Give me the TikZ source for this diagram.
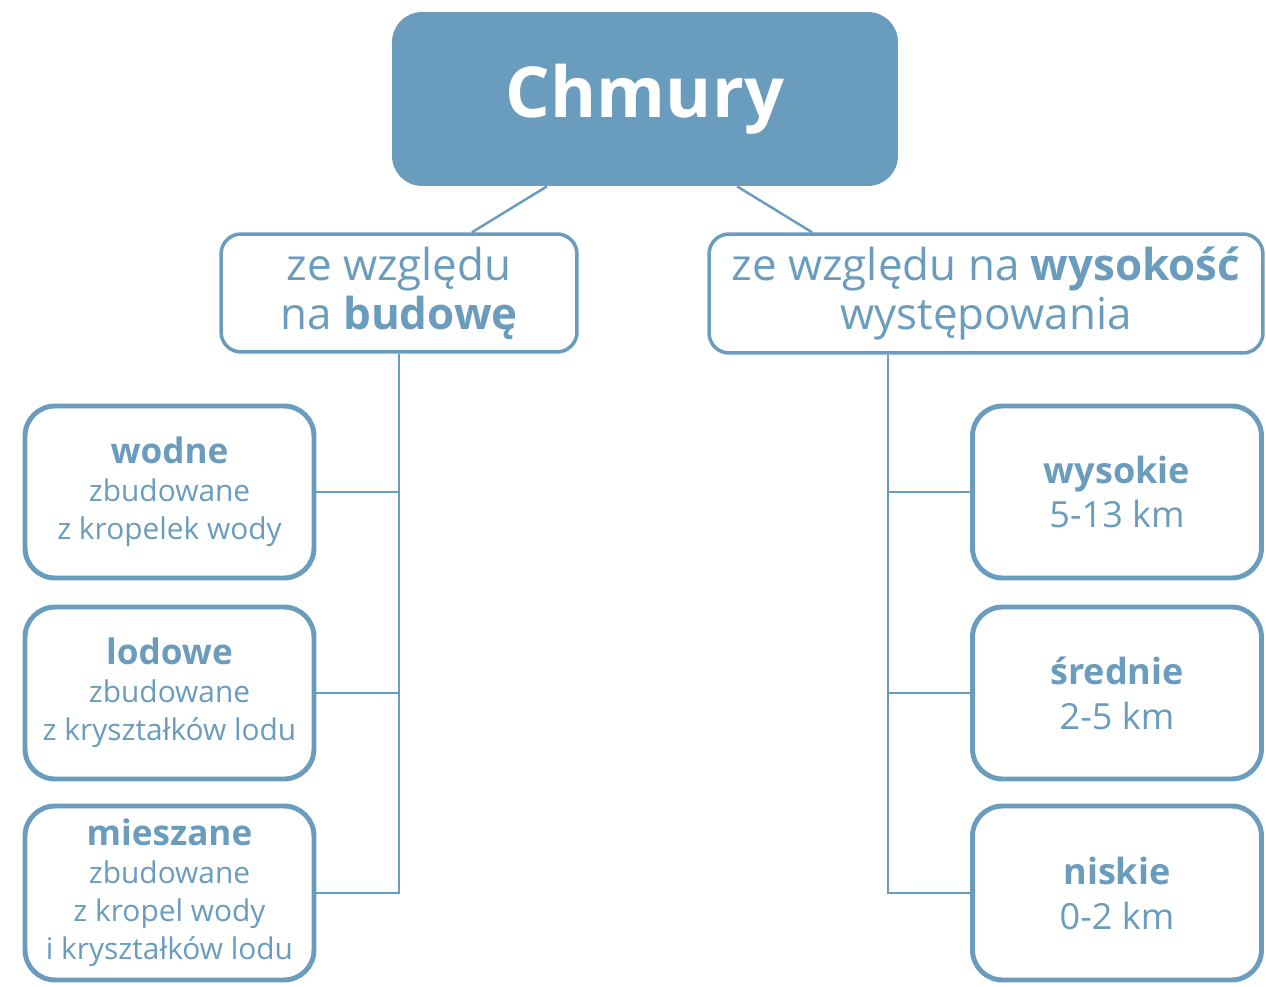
\documentclass[tikz,border=0pt]{standalone}
\usepackage{fontspec}
\setmainfont{Open Sans}
\usetikzlibrary{calc}
\definecolor{cloudblue}{RGB}{106,156,190}
\tikzset{
  topbox/.style={fill=cloudblue, draw=none, rounded corners=0.6cm, text=white, inner sep=0pt,
    font=\fontsize{40}{48}\selectfont\bfseries},
  groupbox/.style={draw=cloudblue, line width=2pt, fill=white, rounded corners=0.4cm, text=cloudblue,
    inner sep=0pt, align=center, font=\fontsize{25}{28}\selectfont},
  kindbox/.style={draw=cloudblue, line width=2.8pt, fill=white, rounded corners=0.6cm, text=cloudblue,
    inner sep=0pt, align=center, minimum width=5.78cm, font=\fontsize{17}{21.6}\selectfont},
  link/.style={draw=cloudblue, line width=1.4pt}
}
\begin{document}
\begin{tikzpicture}[x=0.02cm, y=-0.02cm]
	%%%%% START %%%%%
	\useasboundingbox (0,0) rectangle (1266,986);
	
	\node[topbox, minimum width=10.12cm, minimum height=3.48cm] (top) at (645,99) {Chmury};
	
	\node[groupbox, minimum width=7.12cm, minimum height=2.36cm] (build) at (399,293)
		{ze względu\\na \textbf{budowę}};
	\node[groupbox, minimum width=11.08cm, minimum height=2.38cm] (height) at (986,293.5)
		{ze względu na \textbf{wysokość}\\występowania};
	
	\draw[link] ($(top.south)+(-98,0)$) -- ($(build.north)+(73,0)$);
	\draw[link] ($(top.south)+(92,0)$) -- ($(height.north)+(-174,0)$);
	
	%% left column
	\node[kindbox, minimum height=3.44cm] (water) at (169.5,492)
		{{\fontsize{20}{24}\selectfont\bfseries wodne}\\zbudowane\\z kropelek wody};
	\node[kindbox, minimum height=3.44cm] (ice) at (169.5,693)
		{{\fontsize{20}{24}\selectfont\bfseries lodowe}\\zbudowane\\z kryształków lodu};
	\node[kindbox, minimum height=3.48cm] (mixed) at (169.5,893)
		{{\fontsize{20}{24}\selectfont\bfseries mieszane}\\zbudowane\\z kropel wody\\i kryształków lodu};
	
	\draw[link] (build.south) -- (build.south |- mixed.east) -- (mixed.east);
	\draw[link] (water.east) -- (water.east -| build.south);
	\draw[link] (ice.east) -- (ice.east -| build.south);
	
	%% right column
	\node[kindbox, minimum height=3.44cm, font=\fontsize{20.5}{25.6}\selectfont] (high) at (1117,492)
		{{\bfseries wysokie}\\5-13 km};
	\node[kindbox, minimum height=3.44cm, font=\fontsize{20.5}{25.6}\selectfont] (mid) at (1117,693)
		{{\bfseries średnie}\\2-5 km};
	\node[kindbox, minimum height=3.48cm, font=\fontsize{20.5}{25.6}\selectfont] (low) at (1117,893)
		{{\bfseries niskie}\\0-2 km};
	
	\coordinate (trunk) at ($(height.south)+(-98,0)$);
	\draw[link] (trunk) -- (trunk |- low.west) -- (low.west);
	\draw[link] (high.west) -- (high.west -| trunk);
	\draw[link] (mid.west) -- (mid.west -| trunk);
	%%%%% END %%%%%
\end{tikzpicture}
\end{document}
